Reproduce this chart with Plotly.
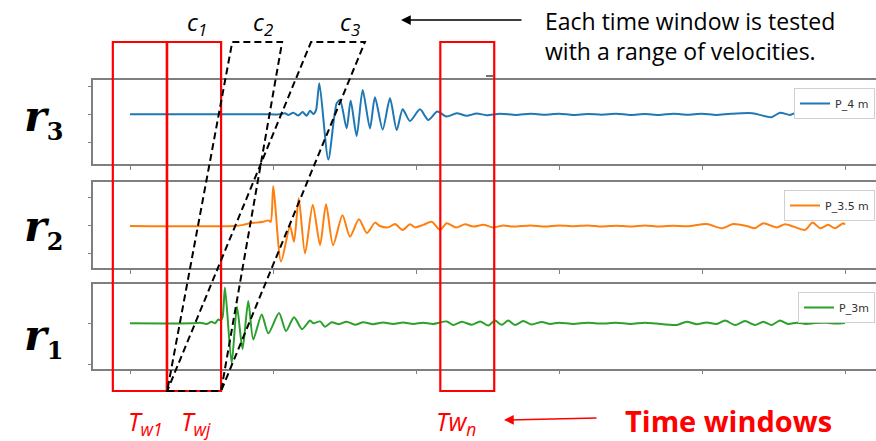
import plotly.graph_objects as go

W, H = 876, 441

# ---------------- data (time in tick units, amplitude in y-tick units) ----------------
t_p4 = [0.0, 0.98, 1.049, 1.084, 1.107, 1.142, 1.177, 1.207, 1.235, 1.259, 1.282, 1.301,
        1.324, 1.387, 1.445, 1.469, 1.515, 1.543, 1.585, 1.627, 1.678, 1.713, 1.767, 1.818,
        1.865, 1.907, 1.958, 2.028, 2.086, 2.149, 2.214, 2.284, 2.354, 2.424, 2.494, 2.587,
        2.7, 2.8, 2.9, 3.0, 3.1, 3.2, 3.3, 3.4, 3.5, 3.6, 3.7, 3.8, 3.9, 4.0, 4.1, 4.2,
        4.352, 4.487, 4.545, 4.615, 4.650, 4.697, 4.755, 4.802, 4.848, 4.883, 4.918, 4.965, 5.0]
a_p4 = [0.0, 0.0, 0.0, 0.04, -0.02, 0.06, -0.04, 0.08, -0.05, 0.13, 0.01, 0.15,
        1.11, -1.61, 0.39, 0.51, -0.50, 0.49, -0.77, 0.87, -0.50, 0.61, -0.54, 0.57,
        -0.56, 0.18, -0.24, 0.18, -0.20, 0.10, -0.08, 0.04, -0.05, 0.03, -0.03, 0.02,
        -0.02, 0.02, -0.01, 0.02, -0.02, 0.01, -0.01, 0.02, -0.02, 0.01, -0.02, 0.02, -0.01, 0.02, -0.02, 0.02,
        0.04, -0.10, 0.06, -0.02, 0.04, -0.12, 0.08, -0.10, 0.0, -0.08, -0.04, 0.0, 0.04]

t_p35 = [0.0, 0.72, 0.792, 0.839, 0.886, 0.932, 0.967, 0.984, 1.002, 1.056, 1.119, 1.147,
         1.18, 1.224, 1.278, 1.329, 1.371, 1.420, 1.486, 1.538, 1.601, 1.657, 1.713, 1.748,
         1.806, 1.853, 1.907, 1.958, 1.993, 2.051, 2.110, 2.168, 2.215, 2.280, 2.343, 2.401,
         2.471, 2.541, 2.610, 2.680, 2.8, 2.9, 3.0, 3.1, 3.2, 3.3, 3.4, 3.5, 3.6, 3.7, 3.8,
         3.9, 4.033, 4.138, 4.219, 4.312, 4.371, 4.429, 4.522, 4.580, 4.638, 4.720, 4.774,
         4.825, 4.883, 4.930, 4.988, 5.0]
a_p35 = [0.0, 0.0, 0.04, 0.10, 0.12, 0.15, 0.20, 0.15, 1.43, -1.27, 0.0, -0.56,
         0.99, -0.98, 0.76, -0.68, 0.78, -0.68, 0.38, -0.38, 0.24, -0.25, 0.12, 0.0,
         -0.05, 0.07, -0.14, 0.06, -0.05, 0.04, 0.15, -0.14, 0.10, -0.05, 0.06, -0.02,
         0.04, -0.05, 0.02, -0.02, 0.02, -0.02, 0.02, -0.01, 0.02, -0.02, 0.01, -0.02, 0.02, -0.02, 0.01,
         -0.01, 0.07, -0.08, 0.07, 0.0, -0.08, 0.10, -0.05, 0.06, -0.02, -0.14, 0.12,
         -0.08, 0.04, -0.08, 0.10, 0.05]

t_p3 = [0.0, 0.44, 0.490, 0.536, 0.571, 0.594, 0.617, 0.634, 0.648, 0.664, 0.711, 0.748,
        0.787, 0.827, 0.862, 0.921, 0.967, 1.042, 1.091, 1.147, 1.203, 1.259, 1.282, 1.329,
        1.364, 1.410, 1.462, 1.515, 1.573, 1.631, 1.70, 1.77, 1.84, 1.91, 1.98, 2.05, 2.12,
        2.215, 2.261, 2.320, 2.390, 2.448, 2.506, 2.552, 2.599, 2.645, 2.692, 2.750, 2.809,
        2.879, 2.937, 3.0, 3.1, 3.2, 3.3, 3.4, 3.5, 3.6, 3.68, 3.823, 3.893, 3.963, 4.033,
        4.103, 4.161, 4.231, 4.301, 4.371, 4.429, 4.487, 4.545, 4.601, 4.664, 4.727, 4.790,
        4.872, 4.937, 5.0]
a_p3 = [0.0, 0.0, 0.02, -0.02, 0.06, 0.0, 0.14, 0.10, 0.24, 1.29, -1.44, 0.60,
        -0.93, 0.81, -0.58, 0.32, -0.36, 0.37, -0.28, 0.22, -0.21, 0.10, 0.0, 0.07,
        -0.12, 0.04, -0.03, 0.06, -0.05, 0.04, -0.03, 0.03, -0.02, 0.03, -0.02, 0.02, -0.02,
        0.07, -0.06, 0.06, -0.05, 0.07, -0.08, 0.10, -0.05, 0.10, -0.06, 0.08, -0.04,
        0.05, -0.02, 0.02, -0.02, 0.02, -0.01, 0.02, -0.02, 0.02, -0.01, -0.06, 0.06, -0.03, 0.03,
        -0.02, 0.10, -0.06, 0.08, -0.06, 0.06, -0.06, 0.10, -0.02, 0.02, -0.02, 0.01,
        0.02, -0.01, 0.01]

series_names = ["P_4 m", "P_3.5 m", "P_3m"]
series_colors = ["#1f77b4", "#ff7f0e", "#2ca02c"]
row_labels = ["3", "2", "1"]
x_ticks = [0, 1, 2, 3, 4, 5]
y_ticks = [[-1, 0, 1], [-1, 0, 1], [-1.5, 0, 1.5]]
y_ranges = [[-1.77, 1.225], [-1.5, 1.57], [-1.63, 1.42]]

# time windows (start, length) and velocity slant top shifts
window_t0 = [-0.12, 0.26, 2.17]
window_len = 0.377
window_names = ["T<sub>w1</sub>", "T<sub>wj</sub>", "Tw<sub>n</sub>"]
slant_c2 = [0.455, 0.427]
slant_c3 = [1.006, 1.006]

# ---------------- figure ----------------
def py(p):
    return 1 - p / H

def px(p):
    return p / W

panel_px = [(80, 164), (182, 268), (284, 368.5)]
x_range = [(93 - 130) / 143, (876 - 130) / 143]

fig = go.Figure()
data = [(t_p4, a_p4), (t_p35, a_p35), (t_p3, a_p3)]
legend_ids = ["legend", "legend2", "legend3"]
for i, (tt, aa) in enumerate(data):
    sfx = "" if i == 0 else str(i + 1)
    fig.add_trace(go.Scatter(
        x=tt, y=aa, mode="lines", name=series_names[i],
        line=dict(color=series_colors[i], width=2, shape="spline", smoothing=0.7),
        xaxis="x" + sfx, yaxis="y" + sfx, legend=legend_ids[i], hoverinfo="skip"))

layout = dict(width=W, height=H, margin=dict(l=0, r=0, t=0, b=0),
              paper_bgcolor="white", plot_bgcolor="white", showlegend=True)

legend_tops = [88, 190, 292]
for i in range(3):
    sfx = "" if i == 0 else str(i + 1)
    top, bot = panel_px[i]
    layout["xaxis" + sfx] = dict(domain=[px(93), 1.0], range=x_range, anchor="y" + sfx,
                                 showline=True, linecolor="#7f7f7f", linewidth=1.6, mirror=True,
                                 ticks="outside", ticklen=4, tickcolor="#7f7f7f", tickwidth=1,
                                 tickvals=x_ticks, showticklabels=False, showgrid=False, zeroline=False)
    layout["yaxis" + sfx] = dict(domain=[py(bot), py(top)], range=y_ranges[i], anchor="x" + sfx,
                                 showline=True, linecolor="#7f7f7f", linewidth=1.6, mirror=False,
                                 ticks="outside", ticklen=3, tickcolor="#7f7f7f", tickwidth=1,
                                 tickvals=y_ticks[i], showticklabels=False, showgrid=False, zeroline=False)
    layout[legend_ids[i]] = dict(x=px(875), y=py(legend_tops[i]), xanchor="right", yanchor="top",
                                 bgcolor="white", bordercolor="#d0d0d0", borderwidth=1,
                                 font=dict(family="DejaVu Sans", size=11, color="#333"),
                                 itemwidth=30)

shapes = []
y_top, y_bot = py(42), py(391)
for t0 in window_t0:
    shapes.append(dict(type="rect", xref="x", yref="paper", x0=t0, x1=t0 + window_len,
                       y0=y_bot, y1=y_top, line=dict(color="#ff0000", width=2.2)))
b0, b1 = window_t0[1], window_t0[1] + window_len
for sl in (slant_c2, slant_c3):
    path = (f"M {b0},{y_bot} L {b1},{y_bot} L {b1 + sl[1]},{y_top} "
            f"L {b0 + sl[0]},{y_top} Z")
    shapes.append(dict(type="path", xref="x", yref="paper", path=path,
                       line=dict(color="black", width=2, dash="7px,4px")))
# small offset mark at the top right of the first panel
shapes.append(dict(type="line", xref="paper", yref="paper", x0=px(486), x1=px(493),
                   y0=py(76), y1=py(76), line=dict(color="#444", width=1.5)))
layout["shapes"] = shapes

ann = []
# r labels
r_centers = [119, 228, 337]
for lab, yc in zip(row_labels, r_centers):
    ann.append(dict(x=px(22), y=py(yc), xref="paper", yref="paper", xanchor="left", yanchor="middle",
                    showarrow=False,
                    text=f"<b><i>r</i><sub><span style='font-size:24px'>{lab}</span></sub></b>",
                    font=dict(family="DejaVu Serif", size=43, color="black")))
# c labels
for lab, xc in zip(["1", "2", "3"], [197, 263, 350]):
    ann.append(dict(x=px(xc), y=py(23), xref="paper", yref="paper", xanchor="center", yanchor="middle",
                    showarrow=False, text=f"<i>c<sub>{lab}</sub></i>",
                    font=dict(family="Open Sans", size=24, color="black")))
# explanation text
ann.append(dict(x=px(543), y=py(3), xref="paper", yref="paper", xanchor="left", yanchor="top",
                showarrow=False, align="left",
                text="Each time window is tested<br>with a range of velocities.",
                font=dict(family="Open Sans", size=23, color="black")))
# black arrow
ann.append(dict(x=px(401), y=py(20), xref="paper", yref="paper", ax=122, ay=0, text="",
                showarrow=True, arrowhead=2, arrowsize=1.3, arrowwidth=1.5, arrowcolor="black"))
# window labels
for lab, xc in zip(window_names, [145, 196, 456]):
    ann.append(dict(x=px(xc), y=py(422), xref="paper", yref="paper", xanchor="center", yanchor="middle",
                    showarrow=False, text=f"<i>{lab}</i>",
                    font=dict(family="Open Sans", size=25, color="#ff0000")))
# red arrow
ann.append(dict(x=px(504), y=py(420), xref="paper", yref="paper", ax=94, ay=-2, text="",
                showarrow=True, arrowhead=2, arrowsize=1.3, arrowwidth=1.5, arrowcolor="#ff0000"))
ann.append(dict(x=px(623), y=py(420), xref="paper", yref="paper", xanchor="left", yanchor="middle",
                showarrow=False, text="<b>Time windows</b>",
                font=dict(family="Open Sans", size=29, color="#ff0000")))
layout["annotations"] = ann

fig.update_layout(**layout)
fig.write_html("out.html", config={"displayModeBar": False},
               post_script="document.body.style.margin='0px';document.body.style.overflow='hidden';")
